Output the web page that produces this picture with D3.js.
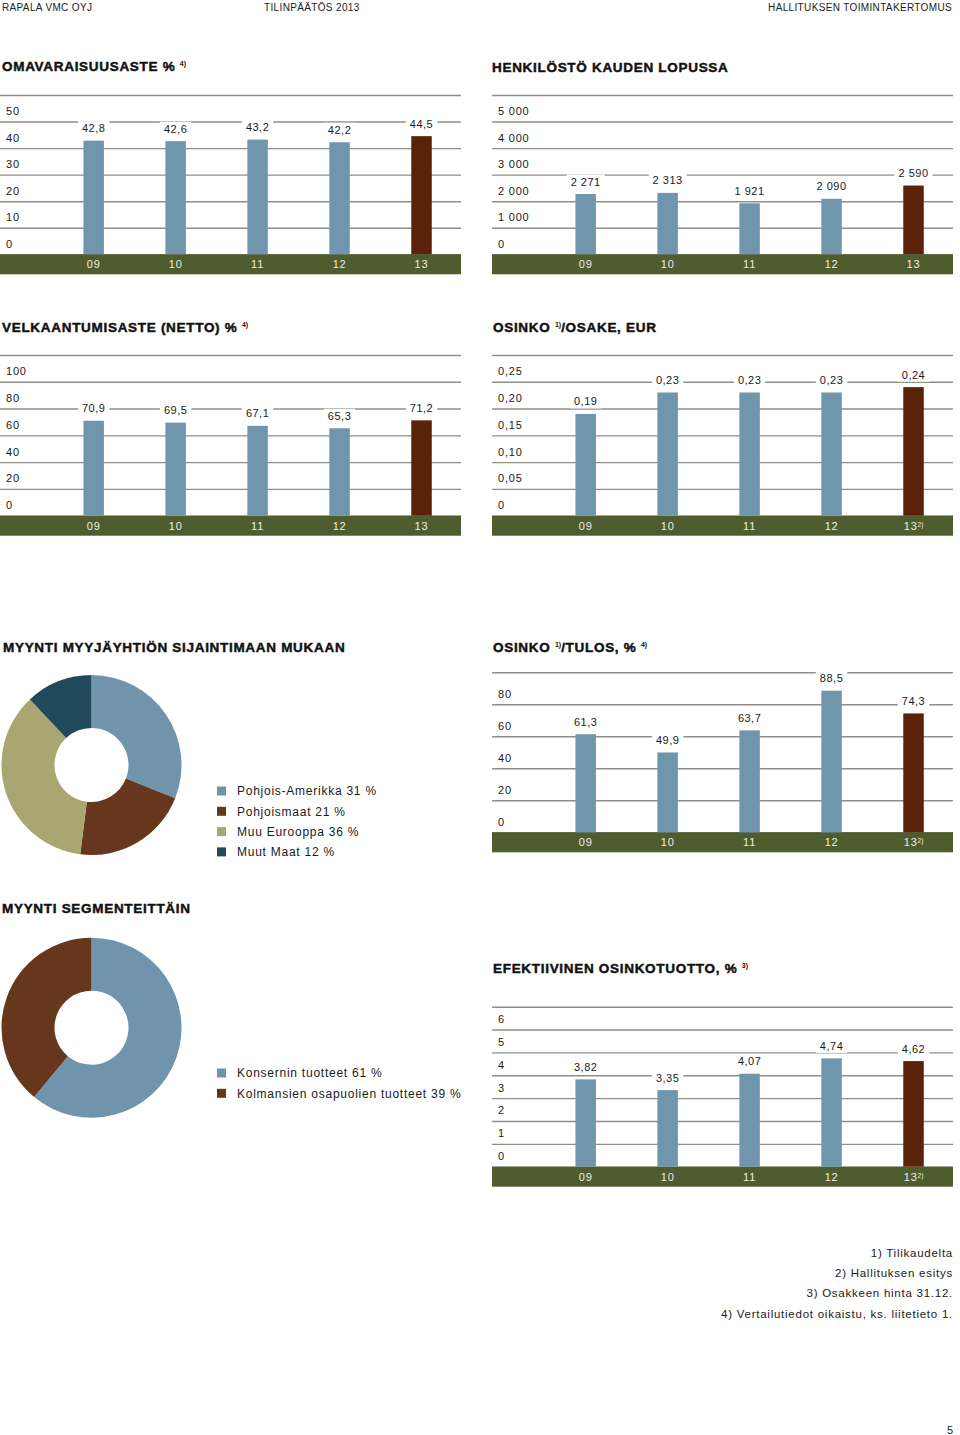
<!DOCTYPE html>
<html><head><meta charset="utf-8">
<script src="https://cdn.jsdelivr.net/npm/d3@7"></script>
<style>
body{margin:0;background:#fff}
svg{display:block;font-family:"Liberation Sans",Arial,sans-serif}
</style>
</head><body>
<svg id="c" width="960" height="1435"></svg>
<script>
// ---------- DATA ----------
const years = ["09","10","11","12","13"];
const omavaraisuusaste = [42.8, 42.6, 43.2, 42.2, 44.5];
const henkilosto = [2271, 2313, 1921, 2090, 2590];
const velkaantumisaste = [70.9, 69.5, 67.1, 65.3, 71.2];
const osinkoOsake = [0.19, 0.23, 0.23, 0.23, 0.24];
const osinkoTulos = [61.3, 49.9, 63.7, 88.5, 74.3];
const osinkotuotto = [3.82, 3.35, 4.07, 4.74, 4.62];

const sijaintiLabels = ["Pohjois-Amerikka 31 %", "Pohjoismaat 21 %", "Muu Eurooppa 36 %", "Muut Maat 12 %"];
const sijaintiValues = [31, 21, 36, 12];
const segmentLabels = ["Konsernin tuotteet 61 %", "Kolmansien osapuolien tuotteet 39 %"];
const segmentValues = [61, 39];

const footnotes = ["1) Tilikaudelta", "2) Hallituksen esitys", "3) Osakkeen hinta 31.12.", "4) Vertailutiedot oikaistu, ks. liitetieto 1."];

// ---------- STYLE ----------
const C = {
  bar: "#7096ad", last: "#5a2309", band: "#4f5c2e", grid: "#8f8f86",
  text: "#1a1a1a", pie: ["#7094ab", "#66371c", "#a9a672", "#214b5c"]
};
const svg = d3.select("#c");
const W = 461;

function fi(v, dec) {
  let s = v.toFixed(dec).replace(".", ",");
  if (dec === 0) s = d3.format(",")(v).replace(/,/g, " ");
  return s;
}

// header
const hdr = [["RAPALA VMC OYJ", 2, "start"], ["TILINPÄÄTÖS 2013", 264, "start"], ["HALLITUKSEN TOIMINTAKERTOMUS", 952, "end"]];
svg.selectAll("text.hdr").data(hdr).join("text").attr("class", "hdr")
  .attr("x", d => d[1]).attr("y", 11).attr("text-anchor", d => d[2])
  .style("font-size", "10px").style("letter-spacing", "0.35px").attr("fill", "#222").text(d => d[0]);

function title(x, y, parts) {
  const t = svg.append("text").attr("x", x).attr("y", y)
    .style("font-size", "13.5px").style("font-weight", "bold").style("letter-spacing", "0.7px")
    .attr("fill", "#111").attr("stroke", "#111").attr("stroke-width", 0.45);
  parts.forEach(p => {
    if (p.sup) t.append("tspan").attr("dy", -5).style("font-size", "7px").style("letter-spacing", "0").attr("stroke-width", 0).text(p.sup);
    else {
      const ts = t.append("tspan").text(p.t);
      if (p.after) ts.attr("dy", 5);
    }
  });
}

function barChart(cfg) {
  const g = svg.append("g").attr("transform", `translate(${cfg.x0},0)`);
  const y = d3.scaleLinear().domain([0, cfg.max]).range([cfg.yBase, cfg.yTop]);
  const x = d3.scaleBand().domain(years).range([52.7, 462.5]).padding(0);
  const tv = d3.range(0, cfg.max + cfg.step / 2, cfg.step);
  const ax = g.append("g").call(d3.axisRight(y).tickValues(tv).tickSize(W)
    .tickFormat(v => Math.abs(v - cfg.max) < 1e-9 ? "" : cfg.tickFmt(v)));
  ax.select(".domain").remove();
  ax.selectAll(".tick line").attr("stroke", C.grid).attr("stroke-width", 1.4);
  ax.selectAll(".tick text").attr("x", 6).attr("dy", -7).attr("text-anchor", "start")
    .style("font-size", "11px").style("letter-spacing", "0.8px").attr("fill", C.text)
    .style("font-family", '"Liberation Sans",Arial,sans-serif');
  // band
  g.append("rect").attr("x", 0).attr("y", cfg.yBase).attr("width", W).attr("height", 20).attr("fill", C.band);
  // bars
  const bw = x.bandwidth() * 0.25;
  const vals = cfg.values.map((v, i) => ({ k: years[i], v, i }));
  g.selectAll("rect.bar").data(vals).join("rect").attr("class", "bar")
    .attr("x", d => x(d.k) + x.bandwidth() / 2 - bw / 2).attr("y", d => y(d.v))
    .attr("width", bw).attr("height", d => y(0) - y(d.v))
    .attr("fill", d => d.i === vals.length - 1 ? C.last : C.bar);
  // value labels with white background
  const lab = g.selectAll("g.lab").data(vals).join("g").attr("class", "lab");
  lab.append("rect").attr("fill", "#fff");
  lab.append("text").attr("x", d => x(d.k) + x.bandwidth() / 2).attr("y", d => y(d.v) - 8.5)
    .attr("text-anchor", "middle").style("font-size", "11px").style("letter-spacing", "0.5px")
    .attr("fill", C.text).text(d => cfg.fmt(d.v));
  lab.each(function () {
    const t = d3.select(this).select("text"), b = t.node().getBBox();
    d3.select(this).select("rect").attr("x", b.x - 4).attr("y", b.y - 1).attr("width", b.width + 8).attr("height", b.height + 2);
  });
  // x axis in band
  const xa = g.append("g").attr("transform", `translate(0,${cfg.yBase + 10})`)
    .call(d3.axisBottom(x).tickSize(0).tickPadding(0));
  xa.select(".domain").remove();
  xa.selectAll(".tick text").attr("dy", "0.35em").attr("y", 0).attr("fill", "#eeeee6")
    .style("font-size", "11px").style("letter-spacing", "0.8px")
    .style("font-family", '"Liberation Sans",Arial,sans-serif');
  if (cfg.sup) {
    xa.selectAll(".tick text").filter(d => d === "13").text(null)
      .call(t => { t.append("tspan").text("13"); t.append("tspan").attr("dy", -3).style("font-size", "6.5px").style("letter-spacing", "0").text("2)"); });
  }
}

const f1 = v => fi(v, 1), f2 = v => fi(v, 2), f0 = v => fi(v, 0);
const t0 = v => v === 0 ? "0" : fi(v, 0);
const t2 = v => v === 0 ? "0" : fi(v, 2);

title(2, 71, [{ t: "OMAVARAISUUSASTE % " }, { sup: "4)" }]);
barChart({ x0: 0, yTop: 95, yBase: 254.3, max: 60, step: 10, values: omavaraisuusaste, fmt: f1, tickFmt: t0 });
title(492, 72, [{ t: "HENKILÖSTÖ KAUDEN LOPUSSA" }]);
barChart({ x0: 492, yTop: 95, yBase: 254.3, max: 6000, step: 1000, values: henkilosto, fmt: f0, tickFmt: t0 });

title(2, 332, [{ t: "VELKAANTUMISASTE (NETTO) % " }, { sup: "4)" }]);
barChart({ x0: 0, yTop: 355, yBase: 515.7, max: 120, step: 20, values: velkaantumisaste, fmt: f1, tickFmt: t0 });
title(493, 332, [{ t: "OSINKO " }, { sup: "1)" }, { t: "/OSAKE, EUR", after: true }]);
barChart({ x0: 492, yTop: 355, yBase: 515.7, max: 0.30, step: 0.05, values: osinkoOsake, fmt: f2, tickFmt: t2, sup: true });

title(3, 652, [{ t: "MYYNTI MYYJÄYHTIÖN SIJAINTIMAAN MUKAAN" }]);
title(493, 652, [{ t: "OSINKO " }, { sup: "1)" }, { t: "/TULOS, % ", after: true }, { sup: "4)" }]);
barChart({ x0: 492, yTop: 672.3, yBase: 832.3, max: 100, step: 20, values: osinkoTulos, fmt: f1, tickFmt: t0, sup: true });

title(2, 913, [{ t: "MYYNTI SEGMENTEITTÄIN" }]);
title(493, 973, [{ t: "EFEKTIIVINEN OSINKOTUOTTO, % " }, { sup: "3)" }]);
barChart({ x0: 492, yTop: 1006.7, yBase: 1166.7, max: 7, step: 1, values: osinkotuotto, fmt: f2, tickFmt: t0, sup: true });

function donut(cx, cy, values, labels, legendY, colors) {
  const g = svg.append("g").attr("transform", `translate(${cx},${cy})`);
  const pie = d3.pie().sort(null).value(d => d)(values);
  const arc = d3.arc().innerRadius(37).outerRadius(90);
  g.selectAll("path").data(pie).join("path").attr("d", arc).attr("fill", (d, i) => colors[i]);
  const lg = svg.append("g");
  const row = lg.selectAll("g").data(labels).join("g").attr("transform", (d, i) => `translate(217,${legendY + i * 20.3})`);
  row.append("rect").attr("x", 0).attr("y", -4.5).attr("width", 9).attr("height", 9).attr("fill", (d, i) => colors[i]);
  row.append("text").attr("x", 20).attr("y", 4.3).style("font-size", "12px").style("letter-spacing", "0.75px")
    .attr("fill", C.text).text(d => d);
}
donut(91.5, 765, sijaintiValues, sijaintiLabels, 791, C.pie);
donut(91.5, 1027.7, segmentValues, segmentLabels, 1073, [C.pie[0], C.pie[1]]);

svg.selectAll("text.fn").data(footnotes).join("text").attr("class", "fn")
  .attr("x", 953).attr("y", (d, i) => 1257 + i * 20.2).attr("text-anchor", "end")
  .style("font-size", "11.5px").style("letter-spacing", "0.75px").attr("fill", C.text).text(d => d);
svg.append("text").attr("x", 953).attr("y", 1434).attr("text-anchor", "end")
  .style("font-size", "11px").attr("fill", C.text).text("5");
</script>
</body></html>
